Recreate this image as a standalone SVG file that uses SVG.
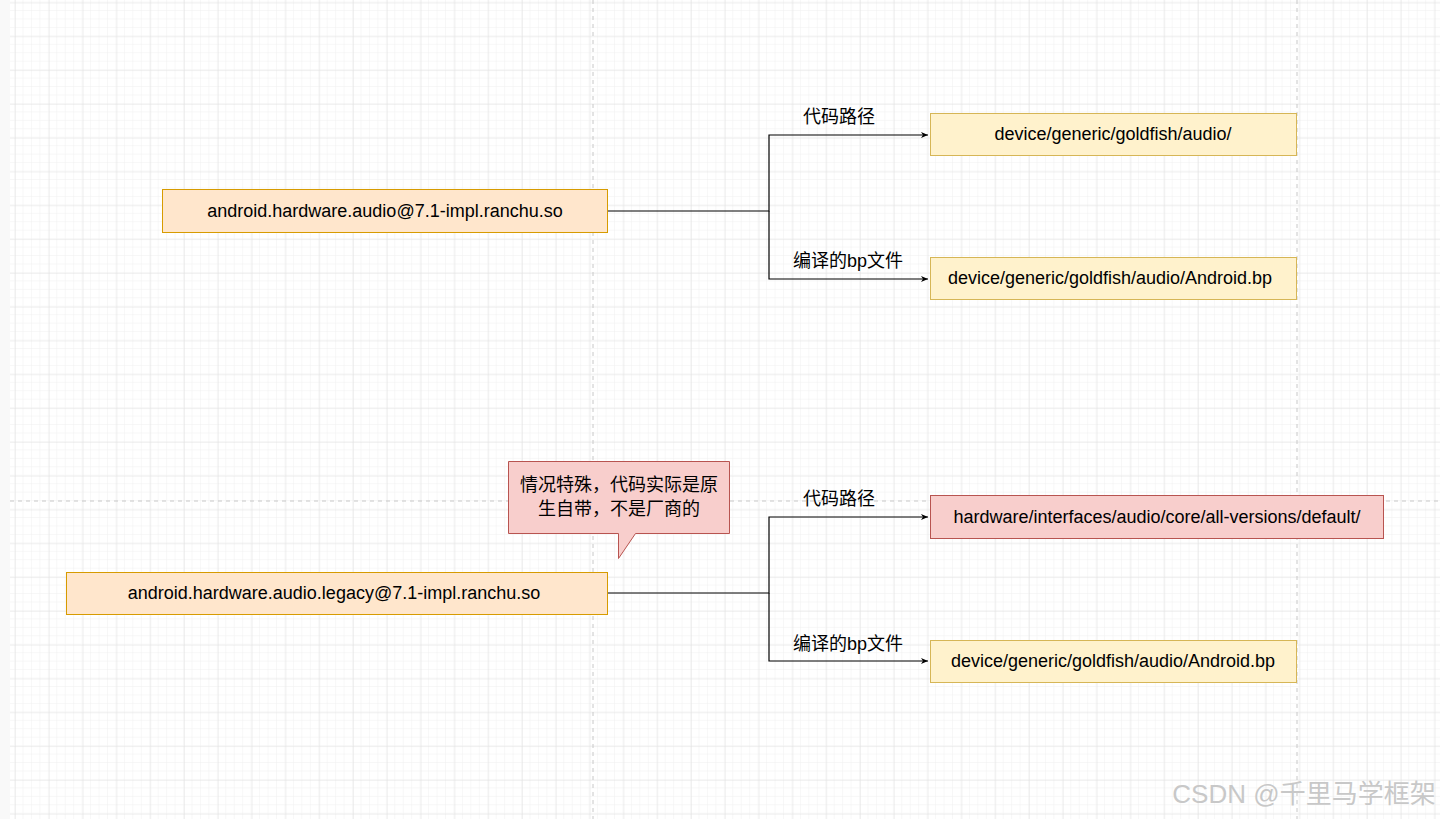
<svg xmlns="http://www.w3.org/2000/svg" width="1440" height="819" viewBox="0 0 1440 819">
<defs>
<pattern id="minor" x="15" y="2.5" width="8.45" height="8.45" patternUnits="userSpaceOnUse"><path d="M8.45 0V8.45H0" fill="none" stroke="#f0f0f0" stroke-width="1"/></pattern>
<pattern id="major" x="15" y="2.5" width="33.8" height="33.8" patternUnits="userSpaceOnUse"><path d="M0 0V33.8M0 0H33.8" fill="none" stroke="#e2e2e2" stroke-width="1"/></pattern>
<marker id="arr" markerWidth="8" markerHeight="8" refX="7" refY="4" orient="auto" markerUnits="userSpaceOnUse"><path d="M0 1L7 4L0 7L2 4Z" fill="#000"/></marker>
<style>
text{font-family:"Liberation Sans","Noto Sans CJK SC",sans-serif;font-size:18px;fill:#000;text-anchor:middle;dominant-baseline:central}
.o{fill:#ffe6cc;stroke:#d79b00}
.y{fill:#fff2cc;stroke:#d6b656}
.r{fill:#f8cecc;stroke:#b85450}
.c{fill:none;stroke:#000;stroke-width:1.2}
</style>
</defs>
<rect width="1440" height="819" fill="#fff"/>
<rect width="1440" height="819" fill="url(#minor)"/>
<rect width="1440" height="819" fill="url(#major)"/>
<rect width="10" height="819" fill="#f9f9f9"/>
<g stroke="#c8c8c8" stroke-dasharray="4,4" stroke-width="1">
<path d="M593 0V819M1297 0V819M10 501H1440"/>
</g>
<g id="connectors">
<path class="c" d="M608 211H769V135H928" marker-end="url(#arr)"/>
<path class="c" d="M769 211V279H928" marker-end="url(#arr)"/>
<path class="c" d="M608 593H769V517H928" marker-end="url(#arr)"/>
<path class="c" d="M769 593V661H928" marker-end="url(#arr)"/>
<text x="839" y="117">代码路径</text>
<text x="848" y="261">编译的bp文件</text>
<text x="839" y="499">代码路径</text>
<text x="848" y="644">编译的bp文件</text>
</g>
<g id="n1"><rect class="o" x="162.500" y="189.500" width="445" height="43"/><text x="385" y="211">android.hardware.audio@7.1-impl.ranchu.so</text></g>
<g id="n2"><rect class="y" x="930.500" y="113.500" width="366" height="42"/><text x="1113" y="134">device/generic/goldfish/audio/</text></g>
<g id="n3"><rect class="y" x="930.500" y="257.500" width="366" height="42"/><text x="1110" y="278">device/generic/goldfish/audio/Android.bp</text></g>
<g id="n4"><rect class="o" x="66.500" y="572.500" width="541" height="42"/><text x="334" y="593">android.hardware.audio.legacy@7.1-impl.ranchu.so</text></g>
<g id="n5"><rect class="r" x="930.500" y="495.500" width="453" height="43"/><text x="1157" y="517">hardware/interfaces/audio/core/all-versions/default/</text></g>
<g id="n6"><rect class="y" x="930.500" y="640.500" width="366" height="42"/><text x="1113" y="661">device/generic/goldfish/audio/Android.bp</text></g>
<g id="callout"><path class="r" d="M508.500 461.500H729.500V533.500H635.500L618.500 558.500V533.500H508.500Z"/><text x="619" y="485">情况特殊，代码实际是原</text><text x="619" y="509">生自带，不是厂商的</text></g>
<text x="1304" y="794" style="font-size:26px;fill:#c8c8c8;text-anchor:middle">CSDN @千里马学框架</text>
</svg>
